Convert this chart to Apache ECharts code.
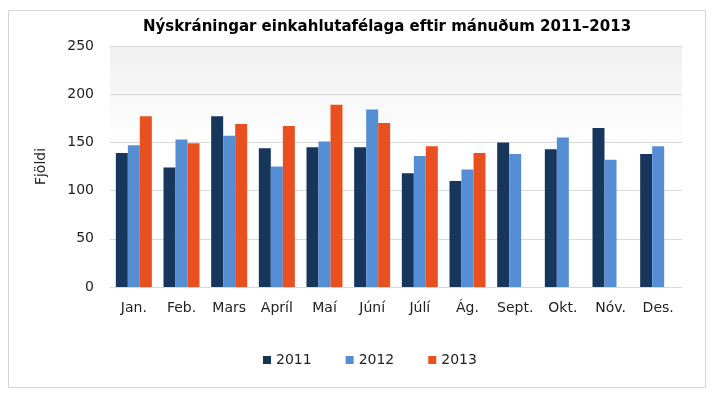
<!DOCTYPE html>
<html>
<head>
<meta charset="utf-8">
<script src="https://cdn.jsdelivr.net/npm/echarts@6/dist/echarts.min.js"></script>
<style>
html,body{margin:0;padding:0;background:#fff;}
#c{width:713px;height:395px;}
</style>
</head>
<body>
<div id="c"></div>
<script>
const categories = ['Jan.', 'Feb.', 'Mars', 'Apríl', 'Maí', 'Júní', 'Júlí', 'Ág.', 'Sept.', 'Okt.', 'Nóv.', 'Des.'];
const values2011 = [139, 124, 177, 144, 145, 145, 118, 110, 150, 143, 165, 138];
const values2012 = [147, 153, 157, 125, 151, 184, 136, 122, 138, 155, 132, 146];
const values2013 = [177, 149, 169, 167, 189, 170, 146, 139, null, null, null, null];
const yTicks = [0, 50, 100, 150, 200, 250];

const font = 'DejaVu Sans, Verdana, sans-serif';
const chart = echarts.init(document.getElementById('c'));
chart.setOption({
  animation: false,
  title: {
    text: 'Nýskráningar einkahlutafélaga eftir mánuðum 2011–2013',
    left: 382, top: 15, textAlign: 'center',
    textStyle: {fontFamily: font, fontSize: 15, fontWeight: 'bold', color: '#000'}
  },
  graphic: [{
    type: 'rect', left: 6, top: 8, z: -10,
    shape: {width: 697, height: 377},
    style: {fill: 'none', stroke: '#d6d6d6', lineWidth: 1}
  }],
  legend: {
    left: 258, top: 348,
    itemWidth: 8, itemHeight: 8, itemGap: 34,
    icon: 'rect',
    textStyle: {fontFamily: font, fontSize: 14, color: '#222'},
    data: ['2011', '2012', '2013']
  },
  grid: {
    left: 110, right: 31, top: 46, bottom: 108,
    show: true, borderWidth: 0,
    backgroundColor: new echarts.graphic.LinearGradient(0, 0, 0, 1, [
      {offset: 0, color: '#f0f0f0'}, {offset: 0.42, color: '#ffffff'}, {offset: 1, color: '#ffffff'}
    ])
  },
  xAxis: {
    type: 'category', data: categories,
    axisLine: {show: false}, axisTick: {show: false},
    axisLabel: {fontFamily: font, fontSize: 14, color: '#222', margin: 14, interval: 0}
  },
  yAxis: {
    type: 'value', min: yTicks[0], max: yTicks[yTicks.length - 1], interval: 50,
    name: 'Fjöldi', nameLocation: 'middle', nameGap: 62,
    nameTextStyle: {fontFamily: font, fontSize: 14, color: '#222'},
    axisLine: {show: false}, axisTick: {show: false},
    axisLabel: {fontFamily: font, fontSize: 14, color: '#222', margin: 16},
    splitLine: {lineStyle: {color: '#d9d9d9', width: 1}}
  },
  series: [
    {name: '2011', type: 'bar', data: values2011, barWidth: 12, barGap: '0%', itemStyle: {color: '#16365c'}},
    {name: '2012', type: 'bar', data: values2012, barWidth: 12, barGap: '0%', itemStyle: {color: '#558ed5'}},
    {name: '2013', type: 'bar', data: values2013, barWidth: 12, barGap: '0%', itemStyle: {color: '#e8501f'}}
  ]
});
</script>
</body>
</html>
